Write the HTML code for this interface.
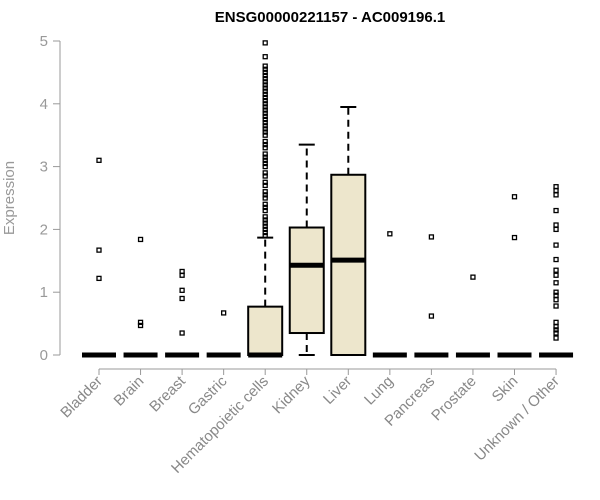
<!DOCTYPE html>
<html><head><meta charset="utf-8"><style>body{margin:0;background:#fff}svg{display:block;font-family:"Liberation Sans",Arial,sans-serif}</style></head>
<body>
<svg id="c" width="600" height="500">
<text x="330" y="22" text-anchor="middle" font-weight="bold" font-size="15">ENSG00000221157 - AC009196.1</text>
<text transform="translate(14,198) rotate(-90)" text-anchor="middle" font-size="15" fill="#999">Expression</text>
<g id="g"></g>
</svg>
<script>
const categories=["Bladder","Brain","Breast","Gastric","Hematopoietic cells","Kidney","Liver","Lung","Pancreas","Prostate","Skin","Unknown / Other"];
const q1=[0,0,0,0,0,0.35,0,0,0,0,0,0];
const med=[0,0,0,0,0,1.43,1.51,0,0,0,0,0];
const q3=[0,0,0,0,0.77,2.03,2.87,0,0,0,0,0];
const whiskLo=[0,0,0,0,0,0,0,0,0,0,0,0];
const whiskHi=[0,0,0,0,1.87,3.35,3.95,0,0,0,0,0];
const outliers=[[3.1,1.67,1.22],[1.84,0.52,0.47],[1.33,1.27,1.03,0.9,0.35],[0.67],
[1.9,1.95,2.0,2.05,2.1,2.15,2.2,2.3,2.35,2.4,2.5,2.55,2.6,2.7,2.75,2.85,2.9,3.0,3.05,3.1,3.15,3.2,3.3,3.35,3.4,3.5,3.55,3.6,3.65,3.7,3.75,3.8,3.85,3.9,3.95,4.0,4.05,4.1,4.15,4.2,4.25,4.3,4.35,4.4,4.45,4.5,4.55,4.6,4.75,4.97],
[],[],[1.93],[1.88,0.62],[1.24],[2.52,1.87],
[2.68,2.62,2.55,2.3,2.07,2.0,1.75,1.52,1.35,1.27,1.15,1.0,0.95,0.88,0.78,0.52,0.45,0.4,0.35,0.27]];
const yTicks=[0,1,2,3,4,5];
const NS="http://www.w3.org/2000/svg",g=document.getElementById('g');
const y=v=>355-62.8*v, x=i=>99+i*41.55;
function mk(t,a){const e=document.createElementNS(NS,t);for(const k in a)e.setAttribute(k,a[k]);g.appendChild(e);return e;}
let e=mk('line',{x1:60,y1:y(0),x2:60,y2:y(5),stroke:'#999'});

yTicks.forEach(t=>{let l=mk('line',{x1:53,x2:60,y1:y(t),y2:y(t),stroke:'#999'});

let tx=mk('text',{x:48,y:y(t)+5,'text-anchor':'end','font-size':15,fill:'#999'});tx.textContent=t;
});
e=mk('line',{x1:x(0),x2:x(11),y1:369,y2:369,stroke:'#999'});

categories.forEach((c,i)=>{const cx=x(i),w=17;
let l=mk('line',{x1:cx,x2:cx,y1:369,y2:375,stroke:'#999'});

let tx=mk('text',{x:cx+4,y:382,'text-anchor':'end','font-size':15,fill:'#888',transform:`rotate(-45 ${cx+4} 382)`});tx.textContent=c;

if(whiskHi[i]>q3[i]){let a=mk('line',{x1:cx,x2:cx,y1:y(q3[i]),y2:y(whiskHi[i]),stroke:'#000','stroke-width':2,'stroke-dasharray':'7,5'});

let b=mk('line',{x1:cx-8,x2:cx+8,y1:y(whiskHi[i]),y2:y(whiskHi[i]),stroke:'#000','stroke-width':2});
}
if(q1[i]>whiskLo[i]){let a=mk('line',{x1:cx,x2:cx,y1:y(q1[i]),y2:y(whiskLo[i]),stroke:'#000','stroke-width':2,'stroke-dasharray':'7,5'});

let b=mk('line',{x1:cx-8,x2:cx+8,y1:y(whiskLo[i]),y2:y(whiskLo[i]),stroke:'#000','stroke-width':2});
}
if(q3[i]>q1[i]){let r=mk('rect',{x:cx-w,y:y(q3[i]),width:2*w,height:y(q1[i])-y(q3[i]),fill:'#ede6cc',stroke:'#000','stroke-width':2});
}
let m=mk('line',{x1:cx-w,x2:cx+w,y1:y(med[i]),y2:y(med[i]),stroke:'#000','stroke-width':5});

outliers[i].forEach(v=>{let p=mk('rect',{x:cx-2,y:y(v)-2,width:4,height:4,fill:'none',stroke:'#000','stroke-width':1.3});
});
});
</script>
</body></html>
